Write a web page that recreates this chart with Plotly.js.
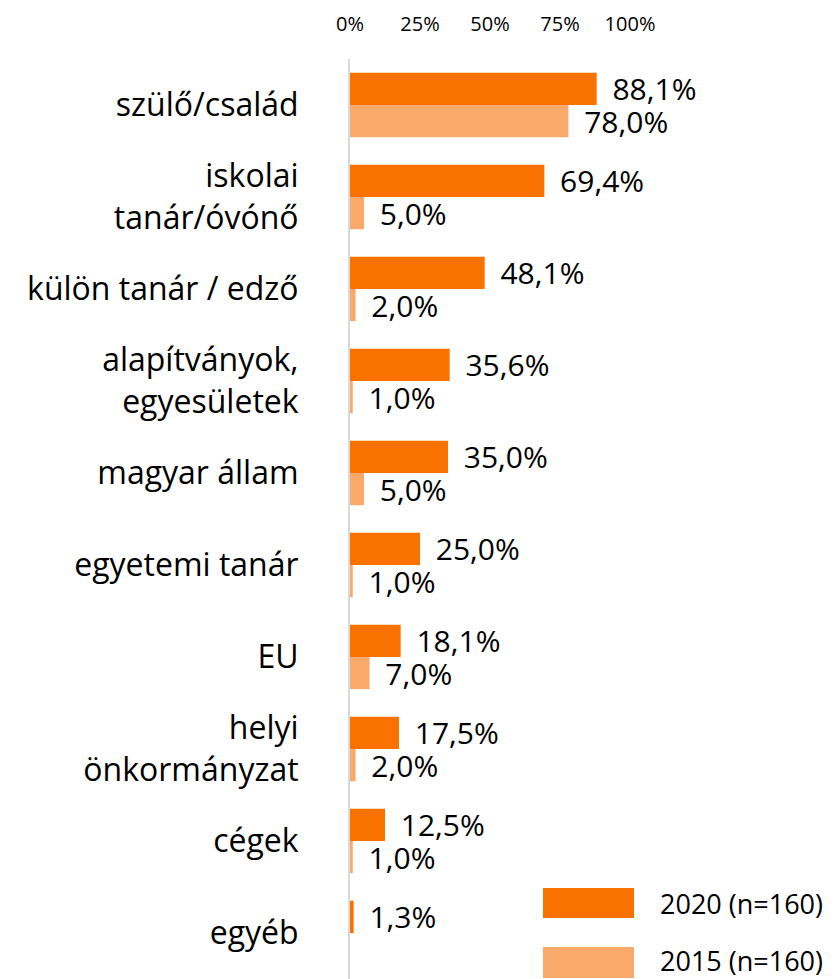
<!DOCTYPE html>
<html>
<head>
<meta charset="utf-8">
<script src="https://cdn.plot.ly/plotly-3.0.1.min.js"></script>
<style>html,body{margin:0;padding:0;background:#fff;}#chart{width:835px;height:979px;}</style>
</head>
<body>
<div id="chart"></div>
<script>
var categories = ["szülő/család", "iskolai<br>tanár/óvónő", "külön tanár / edző", "alapítványok,<br>egyesületek", "magyar állam", "egyetemi tanár", "EU", "helyi<br>önkormányzat", "cégek", "egyéb"];
var values2020 = [88.1, 69.4, 48.1, 35.6, 35.0, 25.0, 18.1, 17.5, 12.5, 1.3];
var values2015 = [78.0, 5.0, 2.0, 1.0, 5.0, 1.0, 7.0, 2.0, 1.0, null];
var seriesNames = ["2020 (n=160)", "2015 (n=160)"];
var tickValues = [0, 25, 50, 75, 100];
var tickLabels = ["0%", "25%", "50%", "75%", "100%"];

var FONT = "'Open Sans', 'Noto Sans', sans-serif";
var C2020 = "#F97200", C2015 = "#F9AA6B";

function fmt(arr) {
  return arr.map(function (v) {
    return v === null ? "" : "\u00A0\u2009" + v.toFixed(1).replace(".", ",") + "%";
  });
}

var traces = [
  {
    type: "bar", orientation: "h", name: seriesNames[0],
    y: categories, x: values2020, text: fmt(values2020),
    textposition: "outside", constraintext: "none", cliponaxis: false,
    textfont: {family: FONT, size: 30, color: "#000"},
    marker: {color: C2020}, hoverinfo: "skip", showlegend: false
  },
  {
    type: "bar", orientation: "h", name: seriesNames[1],
    y: categories, x: values2015, text: fmt(values2015),
    textposition: "outside", constraintext: "none", cliponaxis: false,
    textfont: {family: FONT, size: 30, color: "#000"},
    marker: {color: C2015}, hoverinfo: "skip", showlegend: false
  }
];

// legend drawn as swatches + labels in paper coordinates
var W = 835, H = 979, L = 350, T = 59;
function px(x) { return (x - L) / (W - L); }
function py(y) { return (H - y) / (H - T); }

var layout = {
  width: W, height: H,
  margin: {l: L, r: 0, t: T, b: 0, pad: 0},
  paper_bgcolor: "#fff", plot_bgcolor: "#fff",
  barmode: "group", bargap: 0.3, bargroupgap: 0,
  font: {family: FONT, color: "#000"},
  xaxis: {
    side: "top", range: [0, 100 * (W - L) / 280],
    tickvals: tickValues, ticktext: tickLabels,
    showgrid: false, zeroline: false, showline: false, ticks: "",
    ticklabelstandoff: 23,
    tickfont: {family: FONT, size: 20, color: "#000"},
    fixedrange: true
  },
  yaxis: {
    type: "category", range: [9.5, -0.5],
    showgrid: false, zeroline: false,
    showline: true, linecolor: "#D9D9D9", linewidth: 2,
    ticks: "", ticklabelstandoff: 43,
    tickfont: {family: FONT, size: 32, color: "#000"},
    fixedrange: true
  },
  shapes: [
    {type: "rect", xref: "paper", yref: "paper", x0: px(543), x1: px(634), y0: py(918), y1: py(888), fillcolor: C2020, line: {width: 0}},
    {type: "rect", xref: "paper", yref: "paper", x0: px(543), x1: px(634), y0: py(978), y1: py(947), fillcolor: C2015, line: {width: 0}}
  ],
  annotations: [
    {xref: "paper", yref: "paper", x: px(658), y: py(903), xanchor: "left", yanchor: "middle", showarrow: false, text: seriesNames[0], font: {family: FONT, size: 27, color: "#000"}},
    {xref: "paper", yref: "paper", x: px(658), y: py(960), xanchor: "left", yanchor: "middle", showarrow: false, text: seriesNames[1], font: {family: FONT, size: 27, color: "#000"}}
  ]
};

Plotly.newPlot("chart", traces, layout, {displayModeBar: false, staticPlot: true});
</script>
</body>
</html>
